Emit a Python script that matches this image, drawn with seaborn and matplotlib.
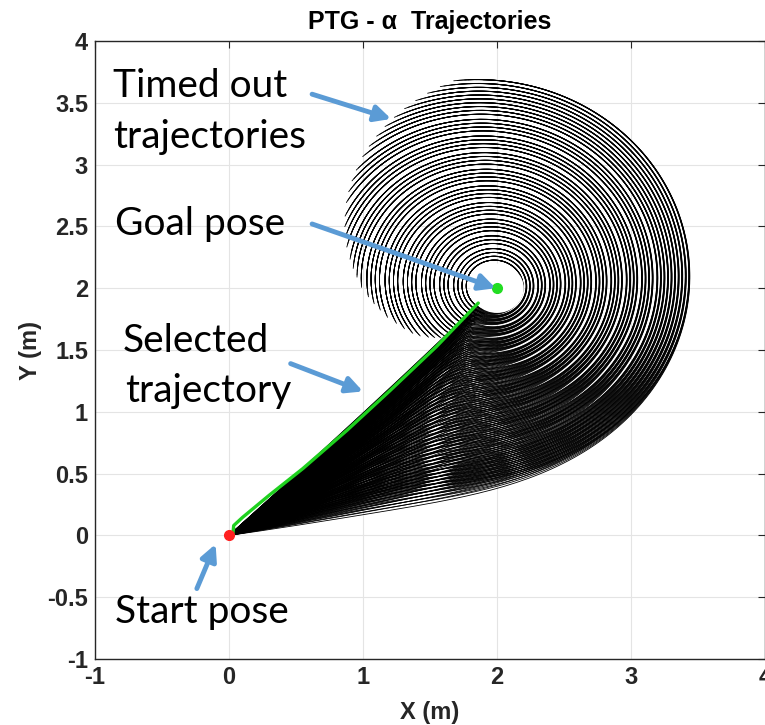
import numpy as np
import pandas as pd
import matplotlib
matplotlib.use("Agg")
import matplotlib.pyplot as plt
import seaborn as sns
from matplotlib.patches import Ellipse

# ---------------- data ----------------
START = (0.0, 0.0)
GOAL = (2.0, 2.0)
HOLE_RADIUS = 0.2

# orbit radius of each alpha-trajectory around the goal (m)
ORBIT_RADII = [0.22, 0.25, 0.28, 0.31, 0.35, 0.38, 0.41, 0.45, 0.48, 0.51,
               0.54, 0.58, 0.61, 0.64, 0.67, 0.71, 0.74, 0.77, 0.80, 0.84,
               0.87, 0.90, 0.93, 0.97, 1.00, 1.03, 1.06, 1.10, 1.13, 1.16,
               1.19, 1.23, 1.26, 1.29, 1.32, 1.36, 1.39, 1.42, 1.45, 1.48,
               1.51, 1.54, 1.57, 1.60, 1.63]
# polar angle (deg, around the goal) at which each trajectory timed out
END_DEG = [250, 249, 247, 245, 243, 241, 239, 237, 235, 233,
           231, 229, 227, 224, 221, 217, 213, 208, 203, 198,
           193, 189, 185, 180, 175, 171, 167, 162, 158, 154,
           150, 145, 141, 137, 133, 128, 124, 120, 116, 112,
           108, 104, 100, 96, 92]
# small spread of the alpha family around each orbit
VARIANT_DR = [-0.018, -0.012, -0.006, 0.0, 0.006, 0.012, 0.018]
VARIANT_TAU = [0.75, 0.82, 0.89, 0.96, 1.03, 1.09, 1.15]
VARIANT_DEND = [-6, -4, -2, 0, 1, 3, 4]

SELECTED_X = [0.0, 0.03, 0.035, 0.10, 0.30, 0.55, 0.88, 1.20, 1.55, 1.86]
SELECTED_Y = [0.0, 0.02, 0.08, 0.145, 0.325, 0.54, 0.85, 1.17, 1.53, 1.88]

LABELS = [("Timed out", -0.866, 3.544), ("trajectories", -0.866, 3.131),
          ("Goal pose", -0.85, 2.427), ("Selected", -0.79, 1.481),
          ("trajectory", -0.776, 1.076), ("Start pose", -0.85, -0.712)]
ARROWS = [((0.62, 3.57), (1.21, 3.37)),
          ((0.62, 2.52), (1.99, 2.00)),
          ((0.46, 1.39), (1.00, 1.165)),
          ((-0.24, -0.43), (-0.10, -0.07))]

X_TICKS = [-1, 0, 1, 2, 3, 4]
Y_TICKS = [-1, -0.5, 0, 0.5, 1, 1.5, 2, 2.5, 3, 3.5, 4]
TITLE = "PTG - α  Trajectories"

# ---------------- build trajectory table ----------------
rows = []
tid = 0
for R0, e in zip(ORBIT_RADII, END_DEG):
    for dr, tm, de in zip(VARIANT_DR, VARIANT_TAU, VARIANT_DEND):
        R = R0
        cx = GOAL[0] - 0.16 * R / 1.64
        cy = GOAL[1] + 0.12 * R / 1.64
        dx, dy = START[0] - cx, START[1] - cy
        r0 = np.hypot(dx, dy)
        phs = np.arctan2(dy, dx)
        tau = 0.31 * (max(R - 0.2, 0.002) / 1.44) ** 0.6 * tm
        total = np.radians(e + de) - phs
        t = np.concatenate([tau * np.linspace(0, 7, 90),
                            np.linspace(7 * tau, total, 340)[1:]])
        t = t[t <= total]
        r = ((R + dr * np.exp(-t / 1.3)) * np.exp(-0.01 * t)
             + (r0 - R - dr) * np.exp(-t / tau))
        x = cx + r * np.cos(phs + t)
        y = cy + r * np.sin(phs + t)
        rows.append(pd.DataFrame({"x": x, "y": y, "traj": tid}))
        tid += 1
traj = pd.concat(rows, ignore_index=True)
sel = pd.DataFrame({"x": SELECTED_X, "y": SELECTED_Y})

# ---------------- plotting ----------------
sns.set_theme(style="whitegrid")
plt.rcParams["font.family"] = ["Liberation Sans", "DejaVu Sans"]
dark = "#262626"

fig = plt.figure(figsize=(7.65, 7.25), dpi=100)
ax = fig.add_axes([0.1242, 0.0910, 0.8758, 0.8524])
ax.set_facecolor("white")

sns.lineplot(data=traj, x="x", y="y", units="traj", estimator=None,
             sort=False, color="black", lw=0.6, legend=False, ax=ax)

ax.add_patch(Ellipse(GOAL, 2 * HOLE_RADIUS, 2 * HOLE_RADIUS,
                     facecolor="white", edgecolor="none", zorder=3))

sns.lineplot(data=sel, x="x", y="y", sort=False, color="#1fd11f", lw=2.4,
             ax=ax, zorder=4)
ax.plot([START[0]], [START[1]], "o", color="#ff2020", ms=7, zorder=5)
ax.plot([GOAL[0]], [GOAL[1]], "o", color="#22dd22", ms=7, zorder=5)

for txt, x, y in LABELS:
    ax.text(x, y, txt, family=["Lato", "DejaVu Sans"], fontsize=28,
            color="black", ha="left", va="baseline", zorder=6)
for (x0, y0), (x1, y1) in ARROWS:
    ax.annotate("", xy=(x1, y1), xytext=(x0, y0),
                arrowprops=dict(arrowstyle="-|>", color="#5b9bd5", lw=3.5,
                                mutation_scale=24, shrinkA=0, shrinkB=0),
                zorder=7)

ax.set_xlim(-1, 4)
ax.set_ylim(-1, 4)
ax.set_xticks(X_TICKS)
ax.set_yticks(Y_TICKS)
ax.set_xticklabels([f"{v:g}" for v in X_TICKS])
ax.set_yticklabels([f"{v:g}" for v in Y_TICKS])
ax.grid(True, color="#e4e4e4", lw=0.8)
ax.set_axisbelow(True)
for s in ax.spines.values():
    s.set_color(dark)
    s.set_linewidth(1.0)
    s.set_visible(True)
ax.tick_params(direction="in", length=5, width=0.8, top=True, right=True,
               colors=dark, labelsize=17, pad=5)
for lab in ax.get_xticklabels() + ax.get_yticklabels():
    lab.set_fontweight("bold")
ax.set_xlabel("X (m)", fontsize=17, fontweight="bold", color=dark, labelpad=9)
ax.set_ylabel("Y (m)", fontsize=17, fontweight="bold", color=dark, labelpad=4)
ax.set_title(TITLE, fontsize=18, fontweight="bold", color="black", pad=9)

fig.savefig("out.png", dpi=100)
